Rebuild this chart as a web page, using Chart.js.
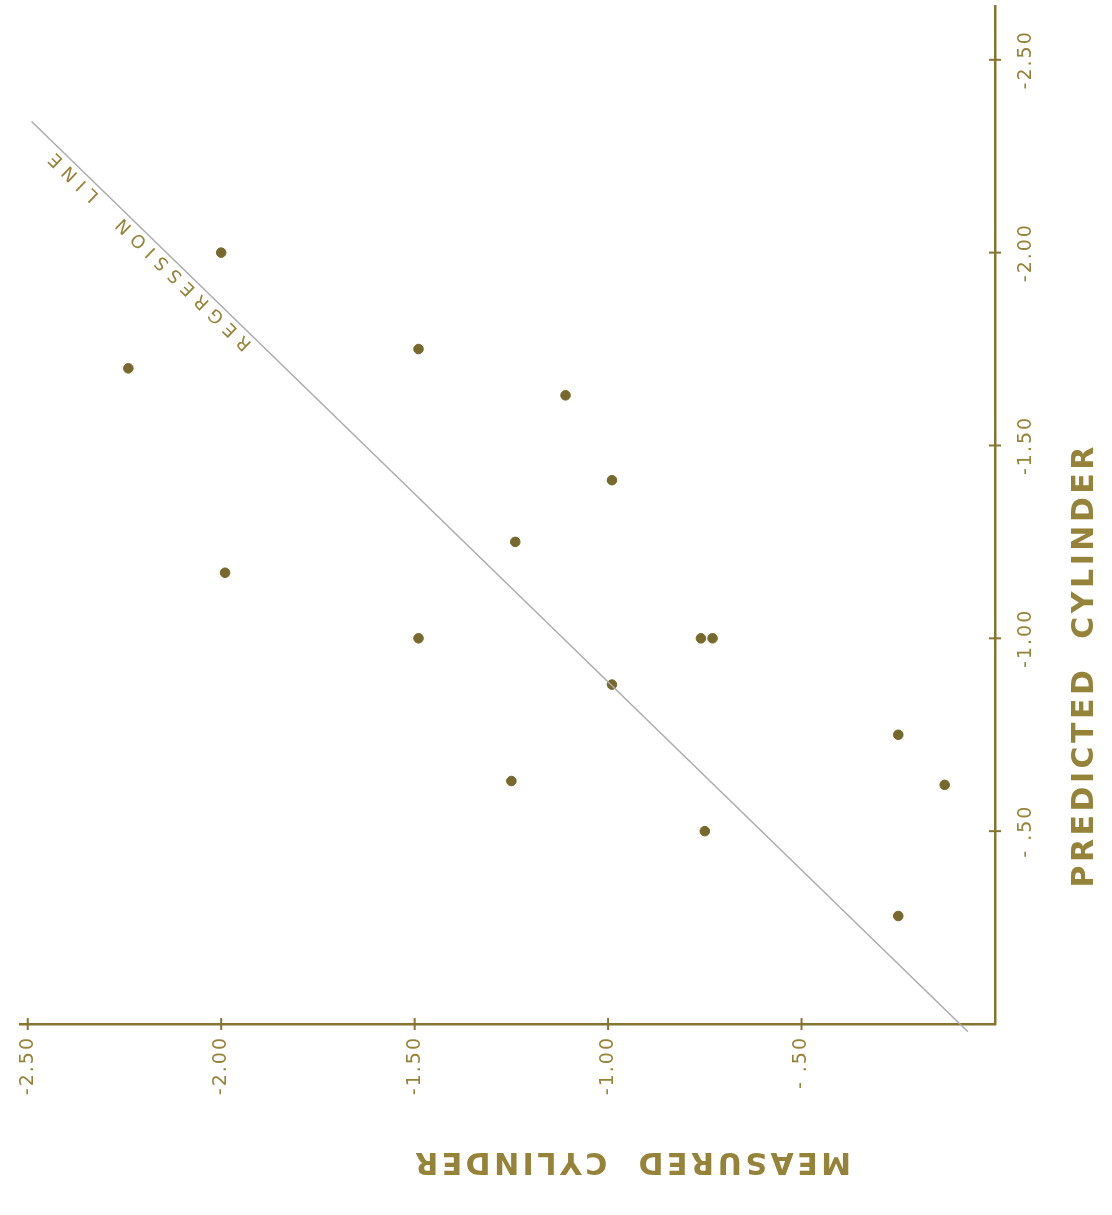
<!DOCTYPE html>
<html>
<head>
<meta charset="utf-8">
<script src="https://cdn.jsdelivr.net/npm/chart.js@4/dist/chart.umd.min.js"></script>
<style>
  html, body { margin: 0; padding: 0; background: #fff; }
  #box { width: 1112px; height: 1215px; position: relative; }
</style>
</head>
<body>
<div id="box"><canvas id="grafico"></canvas></div>
<script>
const measured  = [-2.24, -2.00, -1.99, -1.49, -1.49, -1.11, -0.99, -1.24, -0.76, -0.73, -0.99, -1.25, -0.25, -0.13, -0.75, -0.25];
const predicted = [-1.70, -2.00, -1.17, -1.75, -1.00, -1.63, -1.41, -1.25, -1.00, -1.00, -0.88, -0.63, -0.75, -0.62, -0.50, -0.28];

// reta de regressão (pontos extremos)
const regX = [-2.49, -0.07];
const regY = [-2.34, 0.02];

const xTickValues = [-2.5, -2.0, -1.5, -1.0, -0.5];
const xTickLabels = ["-2.50", "-2.00", "-1.50", "-1.00", "- .50"];
const yTickValues = [-2.5, -2.0, -1.5, -1.0, -0.5];
const yTickLabels = ["-2.50", "-2.00", "-1.50", "-1.00", "- .50"];

const xTitle = "MEASURED  CYLINDER";
const yTitle = "PREDICTED  CYLINDER";
const regLabel = "REGRESSION  LINE";

const tinta = "#857530";
const tintaTexto = "#948338";

//desenha rótulos, marcas e títulos
const rotulos = {
  id: "rotulos",
  afterDraw(chart) {
    const ctx = chart.ctx;
    const sx = chart.scales.x;
    const sy = chart.scales.y;
    const area = chart.chartArea;
    ctx.save();
    ctx.strokeStyle = tinta;
    ctx.lineWidth = 2;
    // marcas do eixo x
    xTickValues.forEach((v) => {
      const px = sx.getPixelForValue(v);
      ctx.beginPath();
      ctx.moveTo(px, area.bottom - 6);
      ctx.lineTo(px, area.bottom + 6);
      ctx.stroke();
    });
    // marcas do eixo y
    yTickValues.forEach((v) => {
      const py = sy.getPixelForValue(v);
      ctx.beginPath();
      ctx.moveTo(area.right - 6, py);
      ctx.lineTo(area.right + 6, py);
      ctx.stroke();
    });

    ctx.fillStyle = tintaTexto;
    ctx.font = "19px 'DejaVu Sans'";
    ctx.letterSpacing = "2px";
    // rótulos x (girados, lendo de baixo pra cima)
    xTickValues.forEach((v, i) => {
      const px = sx.getPixelForValue(v);
      ctx.save();
      ctx.translate(px, area.bottom + 12);
      ctx.rotate(-Math.PI / 2);
      ctx.textAlign = "right";
      ctx.textBaseline = "middle";
      ctx.fillText(xTickLabels[i], 0, 0);
      ctx.restore();
    });
    // rótulos y
    yTickValues.forEach((v, i) => {
      const py = sy.getPixelForValue(v);
      ctx.save();
      ctx.translate(area.right + 31, py);
      ctx.rotate(-Math.PI / 2);
      ctx.textAlign = "center";
      ctx.textBaseline = "middle";
      ctx.fillText(yTickLabels[i], 0, 0);
      ctx.restore();
    });

    // títulos
    ctx.font = "bold 30px 'DejaVu Sans'";
    ctx.letterSpacing = "3.5px";
    ctx.save();
    ctx.translate(area.right + 90, sy.getPixelForValue(-0.93));
    ctx.rotate(-Math.PI / 2);
    ctx.textAlign = "center";
    ctx.textBaseline = "middle";
    ctx.fillText(yTitle, 0, 0);
    ctx.restore();

    ctx.save();
    ctx.translate(sx.getPixelForValue(-0.94), area.bottom + 137);
    ctx.rotate(Math.PI);
    ctx.textAlign = "center";
    ctx.textBaseline = "middle";
    ctx.fillText(xTitle, 0, 0);
    ctx.restore();

    // texto da reta de regressão
    const x0 = sx.getPixelForValue(regX[0]);
    const y0 = sy.getPixelForValue(regY[0]);
    const x1 = sx.getPixelForValue(regX[1]);
    const y1 = sy.getPixelForValue(regY[1]);
    const ang = Math.atan2(y1 - y0, x1 - x0);
    const t = 0.132;
    const cx = x0 + (x1 - x0) * t;
    const cy = y0 + (y1 - y0) * t;
    ctx.font = "18px 'DejaVu Sans'";
    ctx.letterSpacing = "7px";
    ctx.save();
    ctx.translate(cx, cy);
    ctx.rotate(ang + Math.PI);
    ctx.textAlign = "center";
    ctx.textBaseline = "bottom";
    ctx.fillText(regLabel, 0, -1);
    ctx.restore();
    ctx.restore();
  },
};

const grafico = document.getElementById("grafico");
new Chart(grafico, {
  type: "scatter",
  data: {
    datasets: [
      {
        label: "regressão",
        type: "line",
        data: regX.map((x, i) => ({ x: x, y: regY[i] })),
        borderColor: "#ababab",
        borderWidth: 1.5,
        pointRadius: 0,
        clip: false,
      },
      {
        label: "pontos",
        data: measured.map((x, i) => ({ x: x, y: predicted[i] })),
        backgroundColor: "#77682c",
        borderColor: "#77682c",
        pointRadius: 4.8,
      },
    ],
  },
  options: {
    responsive: true,
    maintainAspectRatio: false,
    animation: false,
    layout: { padding: { left: 20, top: 0, right: 0, bottom: 0 } },
    plugins: { legend: { display: false }, tooltip: { enabled: false } },
    scales: {
      x: {
        type: "linear",
        min: -2.52,
        max: 0,
        grid: { display: false },
        border: { display: true, color: tinta, width: 2.5 },
        ticks: { display: false },
        afterFit: (s) => { s.height = 191; },
      },
      y: {
        type: "linear",
        position: "right",
        reverse: true,
        min: -2.64,
        max: 0,
        grid: { display: false },
        border: { display: true, color: tinta, width: 2.5 },
        ticks: { display: false },
        afterFit: (s) => { s.width = 117; },
      },
    },
  },
  plugins: [rotulos],
});
</script>
</body>
</html>
